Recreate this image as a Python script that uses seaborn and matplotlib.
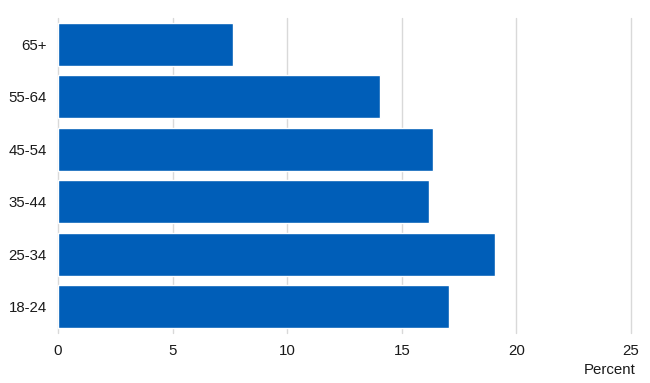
"""
Age group bar chart (percent)
"""

import pandas as pd
import matplotlib.pyplot as plt
import seaborn as sns

# Data
age_groups = ['65+', '55-64', '45-54', '35-44', '25-34', '18-24']
percent = [7.64, 14.07, 16.35, 16.2, 19.05, 17.05]
x_ticks = [0, 5, 10, 15, 20, 25]

df = pd.DataFrame({'age': age_groups, 'percent': percent})

sns.set_style('white')
plt.rcParams['font.family'] = ['Liberation Sans', 'DejaVu Sans']

fig = plt.figure(figsize=(6.5, 3.83), dpi=100)
ax = fig.add_axes([0.0892, 0.1305, 0.8815, 0.8225])

sns.barplot(data=df, x='percent', y='age', orient='h', color='#005EB8',
            saturation=1, width=0.82, ax=ax)

ax.set_xlim(0, 25)
ax.set_xticks(x_ticks)
ax.grid(axis='x', color='#d9d9d9', linewidth=1)
for gl in ax.get_xgridlines():
    gl.set_clip_on(False)
ax.set_axisbelow(True)
for s in ax.spines.values():
    s.set_visible(False)
ax.tick_params(axis='both', length=0, labelsize=10.8, colors='#1a1a1a')
ax.tick_params(axis='x', pad=8)
ax.tick_params(axis='y', pad=8)
ax.set_ylabel('')
ax.set_xlabel('Percent', fontsize=10.8, color='#1a1a1a')
ax.xaxis.set_label_coords(1.008, -0.095)
ax.xaxis.label.set_horizontalalignment('right')

fig.savefig('out.png', dpi=100)
plt.close()
